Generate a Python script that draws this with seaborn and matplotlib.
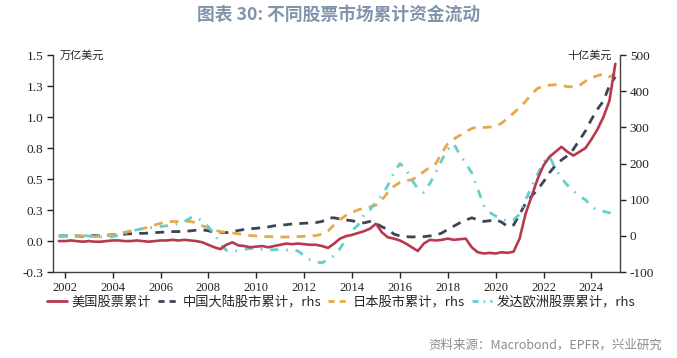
import numpy as np
import pandas as pd
import matplotlib
matplotlib.use("Agg")
import matplotlib.pyplot as plt
import seaborn as sns
from matplotlib.lines import Line2D

# quarterly observation dates (fractional year)
quarters = np.arange(2001.75, 2025.01, 0.25)

# US equity cumulative flows, trillion USD (left axis)
us_flow = [
    0.00, 0.00, 0.005, 0.00, -0.005, 0.00, -0.005, -0.005, 0.00, 0.005,
    0.005, 0.00, 0.00, 0.005, 0.00, -0.005, 0.00, 0.005, 0.005, 0.01,
    0.005, 0.01, 0.005, 0.00, -0.01, -0.03, -0.05, -0.065, -0.03, -0.01,
    -0.035, -0.04, -0.05, -0.045, -0.04, -0.05, -0.04, -0.03, -0.02, -0.025,
    -0.02, -0.025, -0.03, -0.03, -0.04, -0.055, -0.02, 0.02, 0.04, 0.05,
    0.065, 0.08, 0.10, 0.14, 0.07, 0.03, 0.02, 0.005, -0.02, -0.05,
    -0.08, -0.02, 0.01, 0.005, 0.01, 0.02, 0.01, 0.015, 0.02, -0.05,
    -0.09, -0.10, -0.095, -0.10, -0.09, -0.095, -0.085, 0.02, 0.22, 0.36,
    0.50, 0.61, 0.68, 0.72, 0.76, 0.72, 0.69, 0.72, 0.75, 0.82,
    0.90, 1.00, 1.13, 1.43,
]

# China mainland equity cumulative flows, billion USD (right axis)
china_flow = [
    0, 0, 0, 0, -1, 0, 1, 0, 2, 3,
    4, 5, 6, 7, 7, 8, 9, 10, 11, 12,
    12, 13, 14, 16, 17, 14, 11, 10, 9, 12,
    15, 18, 20, 21, 23, 25, 28, 30, 31, 33,
    34, 35, 36, 37, 40, 50, 50, 47, 44, 42,
    38, 36, 40, 35, 25, 18, 5, 0, -2, -3,
    -2, -2, 0, 2, 8, 18, 27, 36, 44, 50,
    45, 40, 42, 45, 38, 26, 30, 60, 90, 110,
    128, 150, 175, 195, 210, 222, 240, 265, 290, 322,
    350, 373, 415, 440,
]

# Japan equity cumulative flows, billion USD (right axis)
japan_flow = [
    0, 0, 1, 0, -1, 0, -2, -1, 1, 3,
    6, 10, 14, 17, 20, 25, 30, 35, 38, 40,
    40, 41, 40, 36, 28, 22, 16, 12, 10, 8,
    6, 3, 1, 0, -2, -2, -2, -3, -3, -2,
    -2, -1, 0, 1, 5, 14, 30, 45, 57, 65,
    72, 77, 80, 85, 100, 120, 137, 148, 153, 155,
    165, 178, 190, 200, 230, 255, 268, 278, 288, 297,
    302, 300, 301, 303, 312, 325, 340, 355, 372, 392,
    408, 414, 417, 418, 416, 413, 412, 416, 428, 437,
    443, 448, 440, 448,
]

# Developed Europe equity cumulative flows, billion USD (right axis)
europe_flow = [
    0, 0, -1, 0, 1, 0, -2, -3, -3, -2,
    2, 6, 12, 17, 20, 22, 24, 26, 28, 30,
    35, 40, 50, 52, 40, 25, 5, -22, -40, -43,
    -40, -37, -35, -34, -37, -39, -38, -38, -39, -38,
    -42, -55, -66, -73, -74, -66, -55, -35, -8, 15,
    30, 58, 72, 95, 112, 140, 175, 200, 185, 155,
    130, 120, 145, 175, 210, 240, 255, 225, 200, 175,
    130, 85, 65, 55, 48, 40, 45, 60, 100, 135,
    170, 205, 220, 185, 160, 140, 125, 110, 100, 82,
    70, 68, 64, 56,
]

series_names = ["美国股票累计", "中国大陆股市累计，rhs", "日本股市累计，rhs", "发达欧洲股票累计，rhs"]
left_ticks = [-0.25, 0.0, 0.25, 0.5, 0.75, 1.0, 1.25, 1.5]
left_labels = ["-0.3", "0.0", "0.3", "0.5", "0.8", "1.0", "1.3", "1.5"]
right_ticks = [-100, 0, 100, 200, 300, 400, 500]
year_ticks = list(range(2002, 2025, 2))

sns.set_style("ticks")
cjk = ["Noto Sans CJK SC", "DejaVu Sans"]
serif = "Liberation Serif"
plt.rcParams["font.family"] = cjk

fig = plt.figure(figsize=(6.77, 3.58), dpi=100)
ax = fig.add_axes([0.078, 0.240, 0.838, 0.606])
ax2 = ax.twinx()

c_us, c_cn, c_jp, c_eu = "#B8394E", "#3E4457", "#E8A84A", "#62D0CC"

sns.lineplot(x=quarters, y=us_flow, ax=ax, color=c_us, lw=1.9)
sns.lineplot(x=quarters, y=china_flow, ax=ax2, color=c_cn, lw=2.0,
             linestyle=(0, (3.2, 2.6)))
sns.lineplot(x=quarters, y=japan_flow, ax=ax2, color=c_jp, lw=2.0,
             linestyle=(0, (3.2, 2.6)))
sns.lineplot(x=quarters, y=europe_flow, ax=ax2, color=c_eu, lw=2.0,
             linestyle=(0, (3.0, 2.8, 0.6, 2.8)))
ax.set_zorder(ax2.get_zorder() + 1)
ax.patch.set_visible(False)

ax.set_xlim(2001.5, 2025.2)
ax.set_ylim(-0.25, 1.5)
ax2.set_ylim(-100, 500)
ax.set_xticks(year_ticks)
ax.set_xticklabels([str(y) for y in year_ticks], family=serif, fontsize=9)
ax.set_yticks(left_ticks)
ax.set_yticklabels(left_labels, family=serif, fontsize=9.5)
ax2.set_yticks(right_ticks)
ax2.set_yticklabels([str(v) for v in right_ticks], family=serif, fontsize=9.5)

spine_c = "#404040"
for a in (ax, ax2):
    for s in ["left", "right", "bottom"]:
        a.spines[s].set_color(spine_c)
        a.spines[s].set_linewidth(1.0)
    a.spines["top"].set_visible(False)
    a.tick_params(colors="#222222", length=4, width=1.0, direction="out", pad=3)
ax.spines["right"].set_visible(False)
ax2.spines["left"].set_visible(False)
ax2.spines["bottom"].set_visible(False)
ax.set_xlabel("")
ax.set_ylabel("")
ax2.set_ylabel("")

ax.text(0.012, 1.0, "万亿美元", transform=ax.transAxes, ha="left", va="center",
        fontsize=8, color="#222222")
ax2.text(0.985, 1.0, "十亿美元", transform=ax2.transAxes, ha="right", va="center",
         fontsize=8, color="#222222")

fig.suptitle("图表 30: 不同股票市场累计资金流动", x=0.5, y=0.985, fontsize=12.8,
             fontweight="bold", color="#8194AC")

handles = [
    Line2D([], [], color=c_us, lw=2.0),
    Line2D([], [], color=c_cn, lw=2.0, linestyle=(0, (2.2, 1.8))),
    Line2D([], [], color=c_jp, lw=2.0, linestyle=(0, (2.2, 1.8))),
    Line2D([], [], color=c_eu, lw=2.0, linestyle=(0, (2.2, 1.8, 0.6, 1.8))),
]
fig.legend(handles, series_names, loc="center left", bbox_to_anchor=(0.069, 0.156),
           ncol=4, frameon=False, fontsize=9.5, handlelength=1.5,
           handletextpad=0.35, columnspacing=0.55, borderaxespad=0, borderpad=0)

fig.text(0.978, 0.036, "资料来源：Macrobond，EPFR，兴业研究", ha="right", va="center",
         fontsize=9, color="#8C8C8C")

fig.savefig("out.png", dpi=100)
